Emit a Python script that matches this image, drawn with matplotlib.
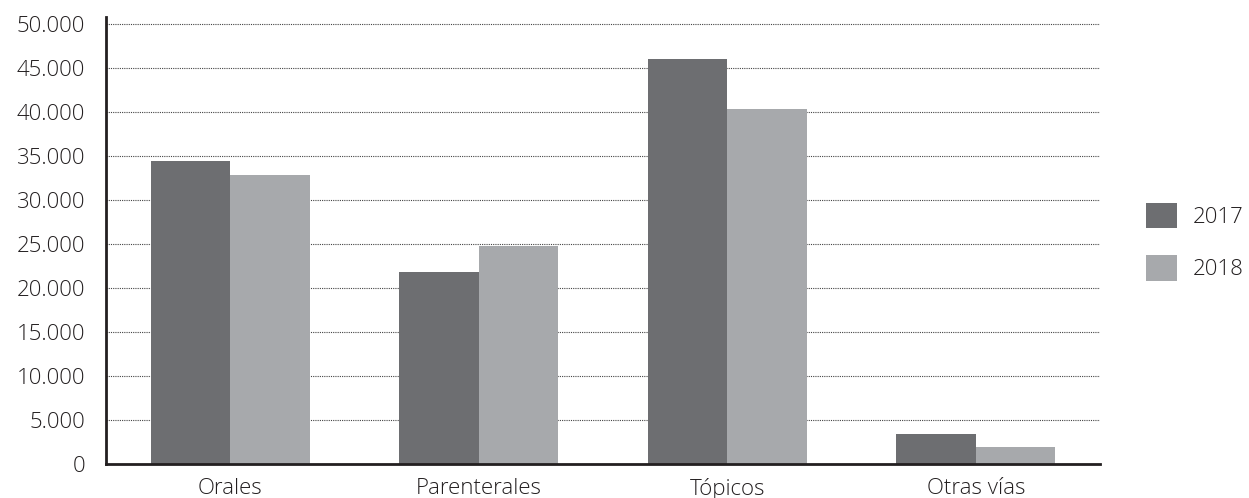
import matplotlib
matplotlib.use("Agg")
import matplotlib.pyplot as plt
import numpy as np
from matplotlib.ticker import FuncFormatter, MultipleLocator

plt.rcParams['font.family'] = ['Open Sans', 'DejaVu Sans']
plt.rcParams['font.weight'] = 'light'

categorias = ["Orales", "Parenterales", "Tópicos", "Otras vías"]
valores_2017 = [34400, 21800, 46000, 3400]
valores_2018 = [32850, 24800, 40300, 1950]
anios = ["2017", "2018"]

color_2017 = "#6d6e71"
color_2018 = "#a7a9ac"
texto = "#231f20"
tam = 16

fig = plt.figure(figsize=(12.49, 4.98), dpi=100)
ax = fig.add_axes([0.0849, 0.0683, 0.7958, 0.8976])

x = np.arange(len(categorias))
ancho = 0.32
ax.bar(x - ancho / 2, valores_2017, ancho, color=color_2017, label=anios[0], zorder=3)
ax.bar(x + ancho / 2, valores_2018, ancho, color=color_2018, label=anios[1], zorder=3)

ax.set_xlim(-0.5, 3.5)
ax.set_ylim(0, 50800)
ax.yaxis.set_major_locator(MultipleLocator(5000))
ax.yaxis.set_major_formatter(FuncFormatter(lambda v, p: f"{int(v):,}".replace(",", ".")))
ax.set_xticks(x)
ax.set_xticklabels(categorias)

ax.grid(axis="y", linestyle=(0, (1, 1)), color="#444444", linewidth=0.8, zorder=0)
ax.tick_params(axis="y", length=0, pad=15, labelsize=tam, labelcolor=texto)
ax.tick_params(axis="x", length=0, pad=10, labelsize=tam, labelcolor=texto)

for lado in ["top", "right"]:
    ax.spines[lado].set_visible(False)
for lado in ["left", "bottom"]:
    ax.spines[lado].set_linewidth(2)
    ax.spines[lado].set_color(texto)
    ax.spines[lado].set_zorder(4)

leg = fig.legend(loc="center left", bbox_to_anchor=(0.9015, 0.515), frameon=False,
                 fontsize=tam, handlelength=1.4, handleheight=1.4,
                 labelspacing=1.2, handletextpad=0.7)
for t in leg.get_texts():
    t.set_color(texto)

fig.savefig("out.png", dpi=100)
